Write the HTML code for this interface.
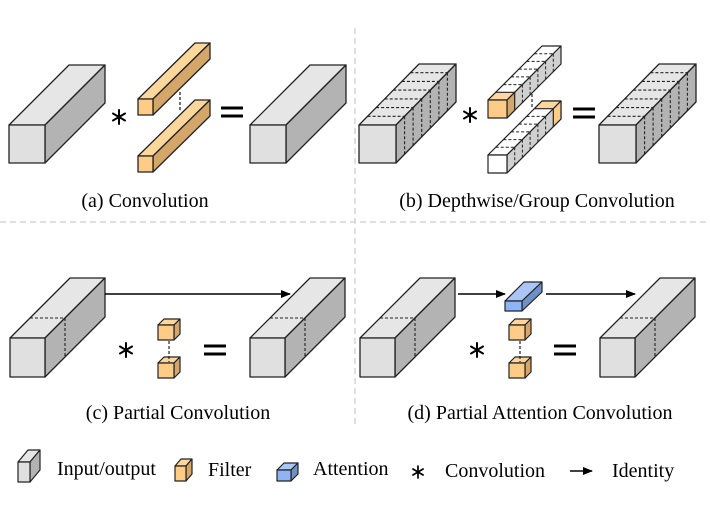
<!DOCTYPE html>
<html><head><meta charset="utf-8"><style>
html,body{margin:0;padding:0;background:#fff;}
svg{display:block;}
text{font-family:"Liberation Serif",serif;font-size:20px;fill:#000;}
</style></head><body>
<svg width="710" height="516" viewBox="0 0 710 516" xmlns="http://www.w3.org/2000/svg">
<defs>
<g id="ast" stroke="#000" stroke-width="2" stroke-linecap="round">
  <line x1="0" y1="-7" x2="0" y2="7"/><line x1="-6" y1="-3.5" x2="6" y2="3.5"/><line x1="-6" y1="3.5" x2="6" y2="-3.5"/>
</g>
<g id="eq" stroke="#000" stroke-width="3"><line x1="-11" y1="-4" x2="11" y2="-4"/><line x1="-11" y1="4" x2="11" y2="4"/></g>
<marker id="ah" markerWidth="10" markerHeight="8" refX="9" refY="4" orient="auto" markerUnits="userSpaceOnUse"><path d="M0,0 L10,4 L0,8 Z" fill="#000"/></marker>
<g id="boxA" stroke="#222" stroke-width="1.3" stroke-linejoin="round">
  <polygon points="9,125 69,65 105,65 45,125" fill="#e6e6e6"/>
  <polygon points="45,125 105,65 105,103 45,163" fill="#b3b3b3"/>
  <rect x="9" y="125" width="36" height="38" fill="#e0e0e0"/>
</g>
<g id="boxB" stroke="#222" stroke-width="1.3" stroke-linejoin="round">
  <polygon points="359,125 419,64 456,64 396,125" fill="#e6e6e6"/>
  <polygon points="396,125 456,64 456,102 396,163" fill="#b3b3b3"/>
  <rect x="359" y="125" width="37" height="38" fill="#e0e0e0"/>
  <g stroke-dasharray="3,2" stroke-width="1.1">
  <line x1="367.6" y1="116.3" x2="404.6" y2="116.3"/><line x1="404.6" y1="116.3" x2="404.6" y2="154.3"/>
  <line x1="376.1" y1="107.6" x2="413.1" y2="107.6"/><line x1="413.1" y1="107.6" x2="413.1" y2="145.6"/>
  <line x1="384.7" y1="98.9" x2="421.7" y2="98.9"/><line x1="421.7" y1="98.9" x2="421.7" y2="136.9"/>
  <line x1="393.3" y1="90.1" x2="430.3" y2="90.1"/><line x1="430.3" y1="90.1" x2="430.3" y2="128.1"/>
  <line x1="401.9" y1="81.4" x2="438.9" y2="81.4"/><line x1="438.9" y1="81.4" x2="438.9" y2="119.4"/>
  <line x1="410.4" y1="72.7" x2="447.4" y2="72.7"/><line x1="447.4" y1="72.7" x2="447.4" y2="110.7"/>
  </g>
</g>
<g id="boxC" stroke="#222" stroke-width="1.3" stroke-linejoin="round">
  <polygon points="10,338 70,278 105,278 45,338" fill="#e6e6e6"/>
  <polygon points="45,338 105,278 105,317 45,377" fill="#b3b3b3"/>
  <rect x="10" y="338" width="35" height="39" fill="#e0e0e0"/>
  <g stroke-dasharray="3,2" stroke-width="1.1"><line x1="30" y1="318" x2="65" y2="318"/><line x1="65" y1="318" x2="65" y2="357"/></g>
</g>
<g id="cube" stroke="#222" stroke-width="1.2" stroke-linejoin="round">
  <polygon points="158,325 164,319 180,319 174,325" fill="#fdd79b"/>
  <polygon points="174,325 180,319 180,334 174,340" fill="#d4a66a"/>
  <rect x="158" y="325" width="16" height="15" fill="#ffcc88"/>
</g>
</defs>

<line x1="355" y1="28" x2="355" y2="428" stroke="#ccc" stroke-width="1.2" stroke-dasharray="6,4"/>
<line x1="0" y1="222" x2="710" y2="222" stroke="#ccc" stroke-width="1.2" stroke-dasharray="6,4"/>

<!-- (a) -->
<use href="#boxA"/>
<use href="#boxA" transform="translate(241,0)"/>
<g stroke="#222" stroke-width="1.3" stroke-linejoin="round">
  <polygon points="138,99 195,43 210,43 153,99" fill="#fdd79b"/>
  <polygon points="153,99 210,43 210,59 153,115" fill="#d4a66a"/>
  <rect x="138" y="99" width="15" height="16" fill="#ffcc88"/>
  <polygon points="138,156 195,100 210,100 153,156" fill="#fdd79b"/>
  <polygon points="153,156 210,100 210,116 153,172" fill="#d4a66a"/>
  <rect x="138" y="156" width="15" height="16" fill="#ffcc88"/>
  <line x1="180" y1="92" x2="180" y2="110" stroke-dasharray="3,2"/>
</g>
<use href="#ast" transform="translate(119,117)"/>
<use href="#eq" transform="translate(232,112)"/>
<text x="145" y="207" text-anchor="middle">(a) Convolution</text>

<!-- (b) -->
<use href="#boxB"/>
<use href="#boxB" transform="translate(240,0)"/>
<g stroke="#222" stroke-width="1.2" stroke-linejoin="round">
  <polygon points="488,100 542,46 561,46 507,100" fill="#fff"/>
  <polygon points="507,100 561,46 561,64 507,118" fill="#d0d0d0"/>
  <polygon points="488,100 495.7,92.3 514.7,92.3 507,100" fill="#fdd79b"/>
  <polygon points="507,100 514.7,92.3 514.7,110.3 507,118" fill="#d4a66a"/>
  <rect x="488" y="100" width="19" height="18" fill="#ffcc88"/>
  <g stroke-dasharray="3,2" stroke-width="1">
   <line x1="503.4" y1="84.6" x2="522.4" y2="84.6"/><line x1="522.4" y1="84.6" x2="522.4" y2="102.6"/>
   <line x1="511.1" y1="76.9" x2="530.1" y2="76.9"/><line x1="530.1" y1="76.9" x2="530.1" y2="94.9"/>
   <line x1="518.9" y1="69.1" x2="537.9" y2="69.1"/><line x1="537.9" y1="69.1" x2="537.9" y2="87.1"/>
   <line x1="526.6" y1="61.4" x2="545.6" y2="61.4"/><line x1="545.6" y1="61.4" x2="545.6" y2="79.4"/>
   <line x1="534.3" y1="53.7" x2="553.3" y2="53.7"/><line x1="553.3" y1="53.7" x2="553.3" y2="71.7"/>
  </g>
  <polygon points="488,155 542,101 561,101 507,155" fill="#fff"/>
  <polygon points="507,155 561,101 561,119 507,173" fill="#d0d0d0"/>
  <polygon points="534.3,108.7 542,101 561,101 553.3,108.7" fill="#fdd79b"/>
  <polygon points="553.3,108.7 561,101 561,119 553.3,126.7" fill="#ffcc88"/>
  <rect x="488" y="155" width="19" height="18" fill="#fff"/>
  <g stroke-dasharray="3,2" stroke-width="1">
   <line x1="495.7" y1="147.3" x2="514.7" y2="147.3"/><line x1="514.7" y1="147.3" x2="514.7" y2="165.3"/>
   <line x1="503.4" y1="139.6" x2="522.4" y2="139.6"/><line x1="522.4" y1="139.6" x2="522.4" y2="157.6"/>
   <line x1="511.1" y1="131.9" x2="530.1" y2="131.9"/><line x1="530.1" y1="131.9" x2="530.1" y2="149.9"/>
   <line x1="518.9" y1="124.1" x2="537.9" y2="124.1"/><line x1="537.9" y1="124.1" x2="537.9" y2="142.1"/>
   <line x1="526.6" y1="116.4" x2="545.6" y2="116.4"/><line x1="545.6" y1="116.4" x2="545.6" y2="134.4"/>
  </g>
  <line x1="532" y1="94" x2="532" y2="108" stroke-dasharray="3,2"/>
</g>
<use href="#ast" transform="translate(470,115)"/>
<use href="#eq" transform="translate(584,113)"/>
<text x="537" y="207" text-anchor="middle">(b) Depthwise/Group Convolution</text>

<!-- (c) -->
<use href="#boxC"/>
<use href="#boxC" transform="translate(240,0)"/>
<use href="#cube"/>
<use href="#cube" transform="translate(0,38)"/>
<line x1="169" y1="341" x2="169" y2="362" stroke="#222" stroke-width="1.2" stroke-dasharray="3,2"/>
<line x1="105" y1="294" x2="290" y2="294" stroke="#000" stroke-width="1.4" marker-end="url(#ah)"/>
<use href="#ast" transform="translate(126,350)"/>
<use href="#eq" transform="translate(215,350)"/>
<text x="178" y="419" text-anchor="middle">(c) Partial Convolution</text>

<!-- (d) -->
<use href="#boxC" transform="translate(350,0)"/>
<use href="#boxC" transform="translate(590,0)"/>
<use href="#cube" transform="translate(351,0)"/>
<use href="#cube" transform="translate(351,38)"/>
<line x1="520" y1="341" x2="520" y2="362" stroke="#222" stroke-width="1.2" stroke-dasharray="3,2"/>
<g stroke="#222" stroke-width="1.2" stroke-linejoin="round">
  <polygon points="505,301 524,282 542,282 522,301" fill="#a9c6f7"/>
  <polygon points="522,301 542,282 542,292 522,311" fill="#6f8fc7"/>
  <rect x="505" y="301" width="17" height="10" fill="#8fb4f5"/>
</g>
<line x1="458" y1="294" x2="505" y2="294" stroke="#000" stroke-width="1.4" marker-end="url(#ah)"/>
<line x1="546" y1="294" x2="635" y2="294" stroke="#000" stroke-width="1.4" marker-end="url(#ah)"/>
<use href="#ast" transform="translate(477,350)"/>
<use href="#eq" transform="translate(565,350)"/>
<text x="540" y="419" text-anchor="middle">(d) Partial Attention Convolution</text>

<!-- legend -->
<g stroke="#222" stroke-width="1.2" stroke-linejoin="round">
  <polygon points="18,462 28,450 40,450 30,462" fill="#e6e6e6"/>
  <polygon points="30,462 40,450 40,470 30,482" fill="#b3b3b3"/>
  <rect x="18" y="462" width="12" height="20" fill="#e0e0e0"/>
  <polygon points="175,466 181,459 192,459 186,466" fill="#fdd79b"/>
  <polygon points="186,466 192,459 192,474 186,481" fill="#d4a66a"/>
  <rect x="175" y="466" width="11" height="15" fill="#ffcc88"/>
  <polygon points="277,470 284,463 298,463 291,470" fill="#a9c6f7"/>
  <polygon points="291,470 298,463 298,474 291,481" fill="#6f8fc7"/>
  <rect x="277" y="470" width="14" height="11" fill="#8fb4f5"/>
</g>
<text x="57" y="475">Input/output</text>
<text x="208" y="476">Filter</text>
<text x="313" y="475">Attention</text>
<use href="#ast" transform="translate(418,472) scale(0.85)"/>
<text x="445" y="477">Convolution</text>
<line x1="570" y1="471" x2="592" y2="471" stroke="#000" stroke-width="1.4" marker-end="url(#ah)"/>
<text x="612" y="477">Identity</text>
</svg>
</body></html>
